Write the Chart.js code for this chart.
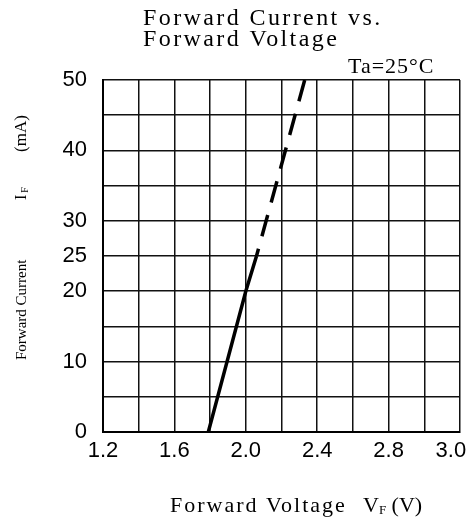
<!DOCTYPE html>
<html lang="en">
<head>
    <meta charset="UTF-8">
    <title>Forward Current vs. Forward Voltage</title>
    <script src="https://cdn.jsdelivr.net/npm/chart.js"></script>
    <style>
        body {
            margin: 0;
            background-color: #fff;
        }
        canvas {
            display: block;
        }
    </style>
</head>
<body>
    <canvas id="ivChart" width="471" height="524"></canvas>

    <script>
        // curve (x = forward voltage on the drawn scale, y = mA)
        const solidCurve = [
            { x: 1.79, y: 0 },
            { x: 2.0, y: 20 },
            { x: 2.06, y: 25 }
        ];
        const dashedCurve = [
            { x: 2.33, y: 50 },
            { x: 2.06, y: 25 }
        ];
        const xTickLabels = ['1.2', '1.6', '2.0', '2.4', '2.8', '3.0'];
        const yTickLabels = [0, 10, 20, 25, 30, 40, 50];

        const SERIF = "'Liberation Serif', 'Times New Roman', serif";

        function text(ctx, str, x, y, size, spacing) {
            ctx.font = size + 'px ' + SERIF;
            ctx.letterSpacing = (spacing || 0) + 'px';
            ctx.fillText(str, x, y);
            return ctx.measureText(str).width;
        }

        const labelsPlugin = {
            id: 'labels',
            afterDraw(chart) {
                const ctx = chart.ctx;
                const area = chart.chartArea;
                ctx.save();
                ctx.fillStyle = '#000';
                ctx.textAlign = 'left';
                ctx.textBaseline = 'alphabetic';

                // title, two lines
                text(ctx, 'Forward Current vs.', 143, 25, 24, 2.4);
                text(ctx, 'Forward Voltage', 143, 46, 24, 2.4);
                text(ctx, 'Ta=25°C', 348, area.top - 7, 22, 1);

                // x axis title
                text(ctx, 'Forward Voltage', 170, 512, 22, 2);
                let x = 363;
                x += text(ctx, 'V', x, 512, 22, 0);
                x += text(ctx, 'F', x, 514, 13, 0);
                text(ctx, ' (V)', x, 512, 22, 0);

                // y axis title, rotated
                ctx.translate(26, 360);
                ctx.rotate(-Math.PI / 2);
                text(ctx, 'Forward Current', 0, 0, 15, 0);
                let yx = 160;
                yx += text(ctx, 'I', yx, 0, 16, 0);
                text(ctx, 'F', yx + 2, 2, 10, 0);
                text(ctx, '(mA)', 208, 0, 17, 0);
                ctx.restore();
            }
        };

        const tickFont = { family: "'Liberation Sans', Arial, sans-serif", size: 22 };

        new Chart(document.getElementById('ivChart'), {
            type: 'line',
            data: {
                datasets: [
                    {
                        data: solidCurve,
                        borderColor: '#000',
                        borderWidth: 3.5,
                        pointRadius: 0,
                        tension: 0
                    },
                    {
                        data: dashedCurve,
                        borderColor: '#000',
                        borderWidth: 3.5,
                        borderDash: [22, 13],
                        pointRadius: 0,
                        tension: 0
                    }
                ]
            },
            options: {
                responsive: false,
                animation: false,
                layout: {
                    padding: { top: 80, right: 11, left: 0, bottom: 0 }
                },
                plugins: {
                    legend: { display: false },
                    tooltip: { enabled: false }
                },
                scales: {
                    x: {
                        type: 'linear',
                        min: 1.2,
                        max: 3.2,
                        afterFit(scale) {
                            scale.height = 92;
                            scale.paddingLeft = 0;
                            scale.paddingRight = 0;
                        },
                        ticks: {
                            stepSize: 0.2,
                            autoSkip: false,
                            maxRotation: 0,
                            padding: 6,
                            color: '#000',
                            font: tickFont,
                            callback: (value, index) => {
                                if (index % 2) return '';
                                const label = xTickLabels[index / 2];
                                // last label sits pulled in from the border
                                return index / 2 === xTickLabels.length - 1 ? label + '   ' : label;
                            }
                        },
                        grid: { color: '#111', lineWidth: 1.5, drawTicks: false },
                        border: { color: '#000', width: 2 }
                    },
                    y: {
                        min: 0,
                        max: 50,
                        afterFit(scale) {
                            scale.width = 103;
                            scale.paddingTop = 0;
                            scale.paddingBottom = 0;
                        },
                        ticks: {
                            stepSize: 5,
                            autoSkip: false,
                            padding: 16,
                            color: '#000',
                            font: tickFont,
                            callback: value => yTickLabels.includes(value) ? String(value) : ''
                        },
                        grid: { color: '#111', lineWidth: 1.5, drawTicks: false },
                        border: { color: '#000', width: 2 }
                    }
                }
            },
            plugins: [labelsPlugin]
        });
    </script>
</body>
</html>
